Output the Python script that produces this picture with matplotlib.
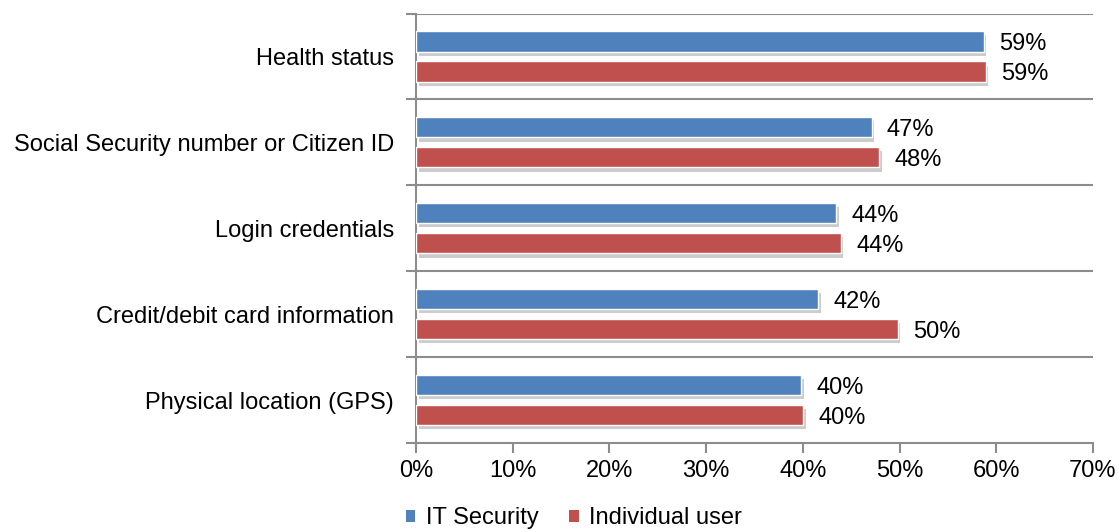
import matplotlib
matplotlib.use("Agg")
import matplotlib.pyplot as plt
import matplotlib.patheffects as pe
from matplotlib.patches import Patch
import numpy as np

categories = ["Health status", "Social Security number or Citizen ID", "Login credentials",
              "Credit/debit card information", "Physical location (GPS)"]
it_security = [58.7, 47.1, 43.4, 41.6, 39.8]
individual_user = [58.9, 47.9, 43.9, 49.8, 40.0]
it_labels = ["59%", "47%", "44%", "42%", "40%"]
ind_labels = ["59%", "48%", "44%", "50%", "40%"]
series_names = ["IT Security", "Individual user"]
xticks = [0, 10, 20, 30, 40, 50, 60, 70]

plt.rcParams['font.family'] = ['Liberation Sans', 'DejaVu Sans']

blue = "#4F81BD"
red = "#C0504D"
grid_c = "#8C8C8C"
fs = 17

fig = plt.figure(figsize=(11.19, 5.32), dpi=100)
ax = fig.add_axes([416/1119, 1-443/532, (1093-416)/1119, (443-13.5)/532])

n = len(categories)
y = np.arange(n)
h = 0.235
off = 0.175
shadow = [pe.SimplePatchShadow(offset=(2, -3), shadow_rgbFace="#808080", alpha=0.4), pe.Normal()]

b1 = ax.barh(y - off, it_security, height=h, color=blue, edgecolor="white", linewidth=1.0, zorder=3)
b2 = ax.barh(y + off, individual_user, height=h, color=red, edgecolor="white", linewidth=1.0, zorder=3)
for b in list(b1) + list(b2):
    b.set_path_effects(shadow)

for yi, v, t in zip(y - off, it_security, it_labels):
    ax.text(v + 1.6, yi, t, va="center_baseline", ha="left", fontsize=fs, color="black")
for yi, v, t in zip(y + off, individual_user, ind_labels):
    ax.text(v + 1.6, yi, t, va="center_baseline", ha="left", fontsize=fs, color="black")

ax.set_xlim(0, 70)
ax.set_ylim(n - 0.5, -0.5)
ax.set_xticks(xticks)
ax.set_xticklabels([f"{x}%" for x in xticks], fontsize=fs)
ax.set_yticks(y)
ax.set_yticklabels(categories, fontsize=fs, va="center_baseline")
ax.set_yticks(np.arange(n + 1) - 0.5, minor=True)
ax.tick_params(axis="y", which="major", length=0, pad=16)
ax.tick_params(axis="y", which="minor", length=7, color=grid_c, width=1.5, direction="out")
ax.tick_params(axis="x", which="major", length=7, color=grid_c, width=1.5, direction="out", pad=5)

for b in np.arange(n) - 0.5:
    ax.axhline(b, color=grid_c, linewidth=1.5, zorder=1)

for s in ["top", "right"]:
    ax.spines[s].set_visible(False)
for s in ["left", "bottom"]:
    ax.spines[s].set_color(grid_c)
    ax.spines[s].set_linewidth(1.5)

handles = [Patch(facecolor=blue, edgecolor="none"), Patch(facecolor=red, edgecolor="none")]
fig.legend(handles=handles, labels=series_names, loc="center", bbox_to_anchor=(0.513, 0.026),
           ncol=2, frameon=False, fontsize=fs, handlelength=0.4, handleheight=0.4,
           handletextpad=0.45, columnspacing=1.3, borderpad=0.0)

fig.savefig("out.png", dpi=100)
